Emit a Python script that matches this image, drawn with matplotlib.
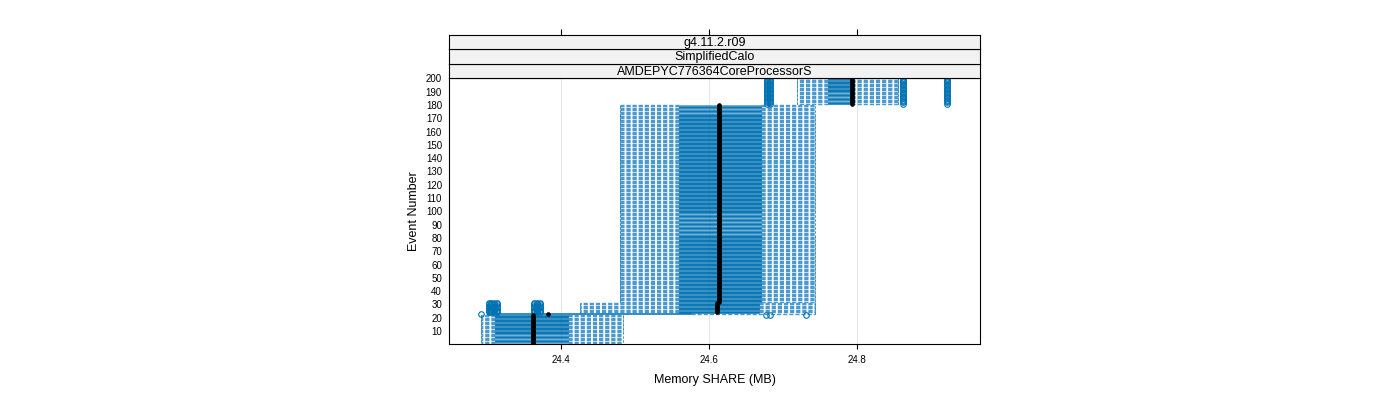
import numpy as np
import matplotlib
matplotlib.use('Agg')
import matplotlib.pyplot as plt

plt.rcParams['font.family'] = ['Liberation Sans', 'DejaVu Sans']

# runs of events that share the same box stats
seg_first = [1, 23, 24, 32, 181]
seg_last = [22, 23, 31, 180, 200]
whis_lo = [24.292, 24.300, 24.426, 24.480, 24.719]
box_q1 = [24.311, 24.311, 24.560, 24.560, 24.761]
box_med = [24.362, 24.382, 24.611, 24.613, 24.793]
box_q3 = [24.409, 24.575, 24.668, 24.670, 24.792]
whis_hi = [24.484, 24.743, 24.743, 24.743, 24.855]

# outliers, same idea
out_first = [22, 23, 24, 181]
out_last = [22, 23, 31, 200]
out_vals = [[24.677, 24.683, 24.731],
            [24.292],
            [24.302, 24.306, 24.310, 24.313, 24.364, 24.368, 24.372],
            [24.679, 24.683, 24.862, 24.922]]

xticks = [24.4, 24.6, 24.8]
yticks = list(range(10, 201, 10))
strips = ['g4.11.2.r09', 'SimplifiedCalo', 'AMDEPYC776364CoreProcessorS']

blue = '#0072B2'
wblue = '#4C9ACD'

counts = np.array(seg_last) - np.array(seg_first) + 1
events = np.concatenate([np.arange(a, b + 1) for a, b in zip(seg_first, seg_last)])
lo = np.repeat(whis_lo, counts)
q1 = np.repeat(box_q1, counts)
med = np.repeat(box_med, counts)
q3 = np.repeat(box_q3, counts)
hi = np.repeat(whis_hi, counts)

ox = []
oy = []
for a, b, vals in zip(out_first, out_last, out_vals):
    for e in range(a, b + 1):
        for v in vals:
            ox.append(v)
            oy.append(e)

fig = plt.figure(figsize=(14, 4), dpi=100)
ax = fig.add_axes([449 / 1400, 56 / 400, 531 / 1400, 266 / 400])

# whiskers (dashed) + staples
dash = (0, (3, 1.4))
ax.hlines(events, q1, lo, colors=wblue, linestyles=dash, lw=1.0)
ax.hlines(events, q3, hi, colors=wblue, linestyles=dash, lw=1.0)
ax.vlines(lo, events - 0.35, events + 0.35, colors=blue, lw=0.7)
ax.vlines(hi, events - 0.35, events + 0.35, colors=blue, lw=0.7)
# boxes
ax.barh(events, q3 - q1, left=q1, height=0.7, color=blue, edgecolor=blue, lw=0.4, zorder=3)
# medians
ax.scatter(med, events, s=11, c='black', zorder=4, linewidths=0)
# outliers
ax.plot(ox, oy, 'o', mfc='none', mec=blue, ms=4, mew=0.8, zorder=3)

ax.set_xlim(24.2486, 24.9662)
ax.set_ylim(0.25, 200.3)
ax.set_xticks(xticks)
ax.set_xticklabels(['%.1f' % t for t in xticks], fontsize=7)
ax.set_yticks(yticks)
ax.set_yticklabels([str(t) for t in yticks], fontsize=7)
ax.tick_params(axis='x', length=3.6, width=0.8, direction='out', pad=4)
ax.tick_params(axis='y', length=0, pad=5)
ax.grid(axis='x', color='#E6E6E6', lw=0.8)
ax.set_axisbelow(True)
for s in ax.spines.values():
    s.set_linewidth(0.8)
ax.set_xlabel('Memory SHARE (MB)', fontsize=9, labelpad=7)
ax.set_ylabel('Event Number', fontsize=9, labelpad=4)

# strips on top of the panel
h = 14.5 / 400
for i, txt in enumerate(strips[::-1]):
    sax = fig.add_axes([449 / 1400, 322 / 400 + i * h, 531 / 1400, h])
    sax.set_facecolor('#F2F2F2')
    sax.set_xlim(ax.get_xlim())
    sax.set_yticks([])
    sax.set_xticks([])
    for s in sax.spines.values():
        s.set_linewidth(0.8)
    sax.text(0.5, 0.42, txt, ha='center', va='center', fontsize=9, transform=sax.transAxes)
    if i == len(strips) - 1:
        sax.set_xticks(xticks)
        sax.tick_params(axis='x', top=True, bottom=False, labeltop=False, labelbottom=False,
                        length=4.3, width=0.8, direction='out')

plt.savefig('out.png', dpi=100)
